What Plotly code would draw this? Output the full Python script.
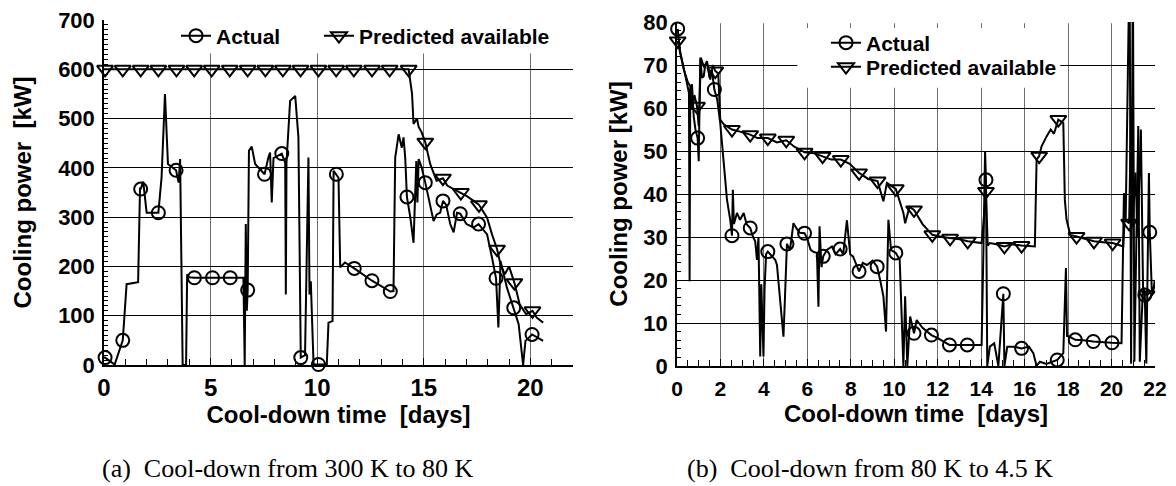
import plotly.graph_objects as go

# ---------------- (a) Cool-down from 300 K to 80 K ----------------
a_days = [0, 0.05, 0.5, 0.88, 1.06, 1.6, 1.69, 1.72, 1.84, 2.0, 2.55, 2.7, 2.86, 3.0, 3.38, 3.5, 3.57,
          3.69, 3.85, 3.9, 4.0, 4.24, 5.09, 5.92, 6.54, 6.6, 6.65, 6.7, 6.74, 6.8, 6.93, 7.09, 7.32,
          7.53, 7.71, 7.79, 7.87, 7.95, 8.34, 8.5, 8.53, 8.56, 8.73, 8.97, 9.12, 9.2, 9.23, 9.43,
          9.59, 9.64, 9.7, 9.83, 10.06, 10.45, 10.53, 10.72, 10.77, 10.9, 11.0, 11.08, 11.3, 11.74,
          12.57, 13.43, 13.58, 13.66, 13.82, 13.97, 14.05, 14.13, 14.21, 14.37, 14.52, 14.65, 14.7,
          14.76, 14.9, 15.07, 15.3, 15.46, 15.6, 15.77, 15.9, 16.05, 16.24, 16.4, 16.56, 16.71, 17.0,
          17.34, 17.57, 17.97, 18.2, 18.39, 18.5, 18.6, 18.9, 19.22, 19.45, 19.66, 19.77, 20.08,
          20.3, 20.6]
a_actual = [15, 15, 1, 50, 164, 168, 360, 357, 372, 309, 309, 380, 550, 408, 395, 370, 418,
            0, 0, 184, 178, 177, 177, 177, 177, 0, 286, 110, 152, 435, 443, 408, 397,
            387, 421, 431, 330, 420, 429, 410, 143, 410, 536, 546, 462, 15, 15, 20,
            421, 143, 170, 1, 1, 1, 86, 89, 394, 387, 380, 198, 208, 196,
            171, 149, 150, 421, 468, 441, 462, 420, 341, 299, 248, 414, 330,
            418, 401, 370, 320, 292, 305, 309, 333, 325, 286, 269, 309, 307, 286,
            279, 286, 265, 218, 176, 76, 211, 157, 116, 83, 0, 49, 62,
            56, 49]
a_actual_mark_days = [0.05, 0.88, 1.72, 2.55, 3.38, 4.24, 5.09, 5.92, 6.74, 7.53, 8.34, 9.23, 10.06,
                      10.9, 11.74, 12.57, 13.43, 14.21, 15.07, 15.9, 16.71, 17.57, 18.39, 19.22, 20.08]
a_actual_mark = [15, 50, 357, 309, 395, 177, 177, 177, 152, 387, 429, 15, 1,
                 387, 196, 171, 149, 341, 370, 333, 307, 286, 176, 116, 62]

a_pred_days = [0, 14.29, 14.45, 14.52, 14.68, 14.76, 14.9, 15.07, 15.3, 15.6, 15.9, 16.1, 16.4, 16.74,
               17.0, 17.34, 17.59, 17.97, 18.2, 18.44, 18.6, 18.8, 19.0, 19.25, 19.5, 19.8, 20.1,
               20.3, 20.6]
a_pred = [600, 600, 550, 489, 500, 483, 472, 452, 408, 374, 379, 364, 357, 350,
          343, 333, 325, 299, 265, 235, 204, 184, 200, 167, 123, 103, 110,
          96, 86]
a_pred_mark_days = [0.05, 0.88, 1.72, 2.55, 3.4, 4.23, 5.05, 5.9, 6.74, 7.57, 8.39, 9.22, 10.06,
                    10.89, 11.72, 12.57, 13.4, 14.29, 15.07, 15.9, 16.74, 17.59, 18.44, 19.25, 20.1]
a_pred_mark = [600, 600, 600, 600, 600, 600, 600, 600, 600, 600, 600, 600, 600,
               600, 600, 600, 600, 600, 452, 379, 350, 325, 235, 167, 110]

# ---------------- (b) Cool-down from 80 K to 4.5 K ----------------
b_days = [0.03, 0.15, 0.3, 0.46, 0.55, 0.58, 0.61, 0.69, 0.77, 0.85, 0.95, 1.0, 1.07, 1.15, 1.23, 1.3,
          1.38, 1.5, 1.6, 1.72, 1.85, 1.99, 2.15, 2.3, 2.45, 2.53, 2.57, 2.62, 2.76, 2.9, 3.07, 3.2,
          3.37, 3.5, 3.6, 3.68, 3.75, 3.83, 3.88, 3.93, 3.98, 4.03, 4.1, 4.18, 4.3, 4.52, 4.6, 4.75,
          4.83, 4.9, 4.97, 5.06, 5.2, 5.36, 5.5, 5.65, 5.87, 6.0, 6.15, 6.3, 6.44, 6.51, 6.56, 6.65,
          6.73, 6.9, 7.13, 7.3, 7.51, 7.65, 7.82, 7.97, 8.1, 8.38, 8.55, 8.74, 9.0, 9.21, 9.35, 9.5,
          9.62, 9.73, 9.85, 10.07, 10.25, 10.42, 10.5, 10.6, 10.73, 10.91, 11.03, 11.3, 11.71, 12.0,
          12.54, 13.36, 14.02, 14.1, 14.18, 14.22, 14.28, 14.4, 14.6, 14.79, 14.94, 15.02, 15.07,
          15.2, 15.5, 15.86, 16.2, 16.4, 16.55, 16.7, 17.0, 17.5, 17.78, 17.9, 17.95, 18.08, 18.33,
          18.7, 19.16, 19.6, 20.02, 20.46, 20.57, 20.65, 20.83, 20.9, 20.98, 21.05, 21.23, 21.3,
          21.45, 21.53, 21.6, 21.72, 21.76, 21.85, 21.91, 21.99]
b_actual = [78.4, 72.9, 69.5, 66, 63.5, 19.7, 64.3, 65.5, 58, 55, 53, 47.6, 71.7, 67, 67.4, 70,
            70.9, 67, 69, 64.3, 62, 56.5, 47.2, 38.7, 34, 30.3, 41, 33, 35.6, 34, 35.6, 33,
            32.1, 30, 29, 24.7, 30, 2.2, 19, 10, 2.2, 18, 26, 26.6, 26, 24.7, 23.5, 15,
            10.7, 6.8, 16, 28.4, 27, 33.2, 32, 31, 30.9, 29.5, 27, 26.5, 26.3, 13.8, 32.5, 23,
            25.5, 27, 27.8, 26, 27.2, 26, 33.9, 26, 25.5, 22, 24, 23.5, 24.5, 23.1, 20, 16.2,
            8, 34, 27, 26.3, 24.7, 0, 16.2, 0, 11.5, 7.6, 10.7, 8.9, 7.2, 6.5,
            4.9, 4.9, 4.9, 26.3, 50, 43.3, 0, 4.5, 5.3, 0, 11.5, 16.8, 0,
            4.5, 4.5, 4.1, 4.5, 3, 0, 1, 0.5, 1.4, 3, 22.8, 7, 6.8, 6.1,
            6, 5.7, 5.5, 5.4, 5.3, 40.2, 34, 95, 0.5, 95, 1, 55.8, 1,
            18.5, 16.5, 0.6, 44.9, 31.1, 18, 16.9, 20]
b_actual_mark_days = [0.03, 0.95, 1.72, 2.53, 3.37, 4.18, 5.06, 5.87, 6.73, 7.51, 8.38, 9.21, 10.07,
                      10.91, 11.71, 12.54, 13.36, 14.22, 15.02, 15.86, 17.5, 18.33, 19.16, 20.02,
                      21.53, 21.76]
b_actual_mark = [78.4, 53, 64.3, 30.3, 32.1, 26.6, 28.4, 30.9, 25.5, 27.2, 22, 23.1, 26.3,
                 7.6, 7.2, 4.9, 4.9, 43.3, 16.8, 4.1, 1.4, 6.1, 5.7, 5.4,
                 16.5, 31.1]

b_pred_days = [0.03, 0.31, 0.5, 0.61, 0.69, 0.8, 0.92, 1.0, 1.1, 1.23, 1.38, 1.53, 1.65, 1.76, 1.9,
               1.99, 2.15, 2.53, 2.9, 3.37, 3.7, 4.18, 4.6, 5.03, 5.4, 5.87, 6.3, 6.7, 7.1, 7.54,
               7.95, 8.38, 8.8, 9.23, 9.5, 9.66, 10.07, 10.42, 10.5, 10.7, 10.91, 11.3, 11.75, 12.2,
               12.57, 13.0, 13.38, 14.02, 14.1, 14.22, 14.3, 14.4, 14.7, 15.07, 15.4, 15.86, 16.47,
               16.55, 16.67, 16.78, 17.01, 17.2, 17.35, 17.55, 17.78, 17.85, 17.93, 18.1, 18.39,
               18.8, 19.19, 19.6, 20.05, 20.54, 20.6, 20.81, 20.9, 20.97, 21.1, 21.2, 21.35, 21.45,
               21.61, 21.75, 21.99]
b_pred = [75.6, 69, 66, 65.1, 59.6, 63, 60.4, 55.8, 71.7, 69.7, 70.5, 66.6, 70, 68.6, 68,
          57.3, 56.2, 55, 54.5, 53.8, 53, 53.0, 52, 52.5, 51, 49.7, 49.5, 48.8, 48, 48.0,
          47, 44.9, 43.5, 43.0, 38.3, 42.6, 41.2, 35.6, 33.2, 37, 36.3, 33, 30.5, 30,
          29.7, 29.5, 29.0, 28.6, 33, 40.6, 28, 28.6, 28.3, 27.8, 28.3, 28, 27.8,
          48, 48.8, 51.1, 53.4, 55, 54, 57.3, 56.5, 38.7, 34, 30.5, 30.1,
          29.5, 29.0, 28.8, 28.6, 27.8, 34, 33.2, 60, 33, 45, 30, 55, 18,
          16.5, 17, 18.5]
b_pred_mark_days = [0.03, 0.92, 1.76, 2.53, 3.37, 4.18, 5.03, 5.87, 6.7, 7.54, 8.38, 9.23, 10.07,
                    10.91, 11.75, 12.57, 13.38, 14.22, 15.07, 15.86, 16.67, 17.55, 18.39, 19.19,
                    20.05, 20.81, 21.61]
b_pred_mark = [75.6, 60.4, 68.6, 55, 53.8, 53.0, 52.5, 49.7, 48.8, 48.0, 44.9, 43.0, 41.2,
               36.3, 30.5, 29.7, 29.0, 40.6, 27.8, 28, 48.8, 57.3, 30.1, 29.0,
               28.6, 33.2, 16.5]

a_xticks = [0, 5, 10, 15, 20]
a_yticks = [0, 100, 200, 300, 400, 500, 600, 700]
b_xticks = [0, 2, 4, 6, 8, 10, 12, 14, 16, 18, 20, 22]
b_yticks = [0, 10, 20, 30, 40, 50, 60, 70, 80]

W, H = 1176, 486
SANS = "Liberation Sans, Arial, sans-serif"
SERIF = "Liberation Serif, Times New Roman, serif"
LINE = dict(color="black", width=2)
CIRC = dict(symbol="circle-open", size=13, color="black", line=dict(width=2, color="black"))
TRI = dict(symbol="triangle-down-open", size=14, color="black", line=dict(width=2, color="black"))
LEGFONT = dict(family=SANS, size=21, color="black", weight="bold")

fig = go.Figure()

def add_panel(xa, ya, leg_a, leg_p, ad, ay, amd, amy, pd, py, pmd, pmy):
    fig.add_trace(go.Scatter(x=pd, y=py, mode="lines", line=LINE, showlegend=False,
                             xaxis=xa, yaxis=ya, hoverinfo="skip"))
    fig.add_trace(go.Scatter(x=ad, y=ay, mode="lines", line=LINE, showlegend=False,
                             xaxis=xa, yaxis=ya, hoverinfo="skip"))
    fig.add_trace(go.Scatter(x=pmd, y=pmy, mode="markers", marker=TRI, showlegend=False,
                             xaxis=xa, yaxis=ya, cliponaxis=False))
    fig.add_trace(go.Scatter(x=amd, y=amy, mode="markers", marker=CIRC, showlegend=False,
                             xaxis=xa, yaxis=ya, cliponaxis=False))
    # legend entries
    fig.add_trace(go.Scatter(x=[None], y=[None], mode="lines+markers", name="Actual",
                             line=LINE, marker=CIRC, legend=leg_a, xaxis=xa, yaxis=ya))
    fig.add_trace(go.Scatter(x=[None], y=[None], mode="lines+markers", name="Predicted available",
                             line=LINE, marker=TRI, legend=leg_p, xaxis=xa, yaxis=ya))

add_panel("x", "y", "legend", "legend3", a_days, a_actual, a_actual_mark_days, a_actual_mark,
          a_pred_days, a_pred, a_pred_mark_days, a_pred_mark)
add_panel("x2", "y2", "legend2", "legend4", b_days, b_actual, b_actual_mark_days, b_actual_mark,
          b_pred_days, b_pred, b_pred_mark_days, b_pred_mark)

def xax(domain, tickvals, minor, size, anchor, standoff):
    return dict(domain=domain, range=[0, 22], tickvals=tickvals, anchor=anchor, automargin=False,
                ticks="inside", ticklen=7, tickwidth=1, tickcolor="black",
                minor=dict(dtick=minor, tick0=0, ticks="inside", ticklen=6, tickcolor="black",
                           showgrid=False),
                showline=True, linecolor="black", linewidth=1.5, mirror=False,
                showgrid=True, gridcolor="#6e6e6e", gridwidth=1, zeroline=False,
                tickfont=dict(family=SANS, size=size, color="black", weight="bold"),
                ticklabelstandoff=standoff,
                title=dict(text="Cool-down time\u00a0\u00a0[days]", standoff=0,
                           font=dict(family=SANS, size=24, color="black", weight="bold")))

def yax(domain, rng, tickvals, minor, title, standoff, anchor):
    return dict(domain=domain, range=rng, tickvals=tickvals, anchor=anchor, automargin=False,
                ticks="inside", ticklen=7, tickwidth=1, tickcolor="black",
                minor=dict(dtick=minor, tick0=0, ticks="inside", ticklen=4, tickcolor="black",
                           showgrid=False),
                showline=True, linecolor="black", linewidth=1.5,
                showgrid=True, gridcolor="black", gridwidth=1, zeroline=False,
                tickfont=dict(family=SANS, size=22, color="black", weight="bold"),
                ticklabelstandoff=3,
                title=dict(text=title, standoff=standoff,
                           font=dict(family=SANS, size=24, color="black", weight="bold")))

def leg(xpx, ypx):
    return dict(orientation="v", x=xpx / W, xanchor="left", y=1 - ypx / H, yanchor="middle",
                bgcolor="rgba(0,0,0,0)", borderwidth=0, font=LEGFONT)

fig.update_layout(
    width=W, height=H, margin=dict(l=0, r=0, t=0, b=0, pad=0, autoexpand=False),
    paper_bgcolor="white", plot_bgcolor="white",
    xaxis=xax([104 / W, 573 / W], a_xticks, 1, 24, "y", 0),
    yaxis=yax([1 - 365 / H, 1 - 20 / H], [0, 700], a_yticks, 10,
              "Cooling power\u00a0\u00a0[kW]", 20, "x"),
    xaxis2=xax([677 / W, 1155 / W], b_xticks, 0.5, 21, "y2", 3),
    yaxis2=yax([1 - 366 / H, 1 - 22 / H], [0, 80], b_yticks, 2,
               "Cooling power [kW]", 9, "x2"),
    legend=leg(176, 36),
    legend3=leg(319, 36),
    legend2=leg(826, 43),
    legend4=leg(826, 67),
    showlegend=True,
    shapes=[
        dict(type="rect", xref="x", yref="y", x0=0.1, x1=22, y0=632, y1=700,
             fillcolor="white", line=dict(width=0), layer="between"),
        dict(type="rect", xref="x2", yref="y2", x0=5.54, x1=17.64, y0=64.7, y1=78.6,
             fillcolor="white", line=dict(width=0), layer="between"),
        dict(type="rect", xref="x2", yref="y2", x0=0.05, x1=22, y0=79.7, y1=80.5,
             fillcolor="white", line=dict(width=0), layer="between"),
    ],
    annotations=[
        dict(text="(a)\u00a0\u00a0Cool-down from 300 K to 80 K", xref="paper", yref="paper",
             x=287 / W, y=1 - 468 / H, xanchor="center", yanchor="middle", showarrow=False,
             font=dict(family=SERIF, size=26, color="black")),
        dict(text="(b)\u00a0\u00a0Cool-down from 80 K to 4.5 K", xref="paper", yref="paper",
             x=870 / W, y=1 - 468 / H, xanchor="center", yanchor="middle", showarrow=False,
             font=dict(family=SERIF, size=26, color="black")),
    ],
)

fig.write_html("out.html", config={"displayModeBar": False},
               post_script="document.body.style.margin='0';document.body.style.overflow='hidden';")
